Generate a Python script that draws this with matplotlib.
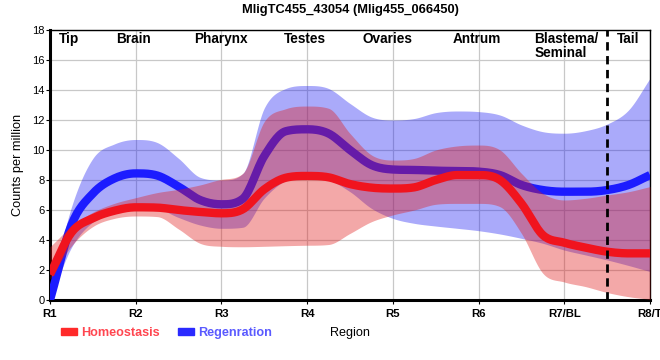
import numpy as np
import matplotlib
matplotlib.use('Agg')
import matplotlib.pyplot as plt
from matplotlib.patches import Patch

plt.rcParams['font.family'] = ['Liberation Sans', 'DejaVu Sans']

# sample positions along the body (1 = R1 ... 8 = R8), quarter steps
pos = np.arange(1, 8.01, 0.25)

hom_mean = [1.7, 4.5, 5.45, 5.95, 6.18, 6.16, 6.0, 5.87, 5.78, 6.05, 7.38, 8.15, 8.27, 8.18, 7.73,
            7.49, 7.43, 7.51, 8.0, 8.33, 8.33, 8.0, 6.44, 4.33, 3.82, 3.49, 3.22, 3.11, 3.11]
hom_low = [1.4, 3.6, 4.9, 5.44, 5.6, 5.56, 4.73, 3.78, 3.58, 3.55, 3.58, 3.62, 3.65, 3.7, 4.44,
           5.22, 5.67, 6.0, 6.38, 6.44, 6.44, 6.22, 4.44, 1.78, 1.2, 0.89, 0.5, 0.22, 0.05]
hom_high = [3.55, 4.9, 5.85, 6.44, 6.82, 7.16, 7.38, 7.67, 8.04, 8.45, 11.9, 12.75, 12.93, 12.78, 11.1,
            9.67, 9.33, 9.44, 10.0, 10.27, 10.33, 10.0, 8.44, 7.11, 6.67, 6.78, 7.0, 7.22, 7.56]

reg_mean = [0.0, 5.0, 7.1, 8.1, 8.44, 8.3, 7.56, 6.67, 6.38, 6.75, 9.6, 11.25, 11.38, 11.1, 10.0,
            9.0, 8.7, 8.67, 8.62, 8.6, 8.56, 8.33, 7.67, 7.33, 7.22, 7.22, 7.33, 7.67, 8.33]
reg_low = [0.0, 3.5, 5.2, 5.8, 6.2, 6.1, 5.5, 5.0, 4.78, 4.85, 6.8, 7.95, 8.15, 8.0, 7.22,
           6.11, 5.44, 5.11, 4.93, 4.78, 4.62, 4.4, 4.11, 3.78, 3.33, 3.0, 2.67, 2.3, 1.9]
reg_high = [0.5, 6.2, 9.44, 10.4, 10.7, 10.5, 9.44, 8.18, 8.0, 8.44, 12.8, 14.1, 14.3, 14.1, 13.1,
            12.2, 12.0, 12.1, 12.49, 12.6, 12.56, 12.33, 11.67, 11.22, 11.12, 11.29, 11.73, 12.67, 14.78]

region_ticks = ['R1', 'R2', 'R3', 'R4', 'R5', 'R6', 'R7/BL', 'R8/T']
tissues = ['Tip', 'Brain', 'Pharynx', 'Testes', 'Ovaries', 'Antrum', 'Blastema/\nSeminal', 'Tail']
tissue_x = [1.22, 1.97, 2.99, 3.97, 4.94, 5.98, 6.65, 7.75]


def smooth(x, y, n=16):
    # cubic hermite through the read points (centred tangents, overshoot limited), only for drawing
    x = np.asarray(x, float)
    y = np.asarray(y, float)
    h = np.diff(x)
    d = np.diff(y) / h
    m = np.empty_like(y)
    m[0], m[-1] = d[0], d[-1]
    m[1:-1] = (d[:-1] + d[1:]) / 2
    for k in range(len(d)):
        if d[k] == 0:
            m[k] = m[k+1] = 0
            continue
        a, b = m[k]/d[k], m[k+1]/d[k]
        if a < 0:
            m[k] = 0
            a = 0
        if b < 0:
            m[k+1] = 0
            b = 0
        s = a*a + b*b
        if s > 9:
            tau = 3/np.sqrt(s)
            m[k], m[k+1] = tau*a*d[k], tau*b*d[k]
    xs, ys = [], []
    t = np.linspace(0, 1, n, endpoint=False)
    h00 = 2*t**3 - 3*t**2 + 1
    h10 = t**3 - 2*t**2 + t
    h01 = -2*t**3 + 3*t**2
    h11 = t**3 - t**2
    for i in range(len(y)-1):
        ys.append(h00*y[i] + h10*h[i]*m[i] + h01*y[i+1] + h11*h[i]*m[i+1])
        xs.append(x[i] + h[i]*t)
    xs.append([x[-1]])
    ys.append([y[-1]])
    return np.concatenate(xs), np.concatenate(ys)


fig = plt.figure(figsize=(6.6, 3.6), dpi=100)
ax = fig.add_axes([50/660, 60/360, 600/660, 270/360])

red = '#f0141e'
blue = '#1c1cff'

xs, lo = smooth(pos, reg_low)
_, hi = smooth(pos, reg_high)
_, mn = smooth(pos, reg_mean)
ax.fill_between(xs, lo, hi, color=(0.1, 0.1, 0.95), alpha=0.37, lw=0, zorder=2)
ax.plot(xs, mn, color=blue, lw=6, solid_capstyle='butt', zorder=3)

xs, lo = smooth(pos, hom_low)
_, hi = smooth(pos, hom_high)
_, mn = smooth(pos, hom_mean)
ax.fill_between(xs, lo, hi, color=(0.88, 0.1, 0.1), alpha=0.38, lw=0, zorder=4)
ax.plot(xs, mn, color=red, lw=6, solid_capstyle='butt', zorder=5)

ax.axvline(7.5, color='black', lw=2, ls=(0, (3, 2)), zorder=6)

for x, lab in zip(tissue_x, tissues):
    ha = 'left' if '\n' in lab else 'center'
    ax.text(x, 17.85, lab, ha=ha, va='top', fontsize=9.8, fontweight='bold', linespacing=1.0, zorder=7)

ax.set_xlim(1, 8)
ax.set_ylim(0, 18)
ax.set_xticks(range(1, 9))
ax.set_xticklabels(region_ticks, fontsize=8.2, fontweight='bold')
ax.set_yticks(range(0, 19, 2))
ax.tick_params(axis='y', labelsize=8, length=3, pad=1)
ax.tick_params(axis='x', length=3, pad=3.5)
ax.grid(True, color='#c8c8c8', lw=0.9)
ax.set_axisbelow(True)
for s in ['left', 'bottom']:
    ax.spines[s].set_linewidth(2.2)
for s in ['top', 'right']:
    ax.spines[s].set_linewidth(1.0)

ax.set_ylabel('Counts per million', fontsize=9.2, labelpad=6)
ax.set_xlabel('Region', fontsize=9.1, labelpad=6)
ax.set_title('MligTC455_43054 (Mlig455_066450)', fontsize=9.3, fontweight='bold', pad=12)

handles = [Patch(color='#ff2a2a'), Patch(color='#2a2aff')]
fig.legend(handles, ['Homeostasis', 'Regenration'], loc='center left',
           bbox_to_anchor=(50/660, 1-333/360), ncol=2, frameon=False,
           handlelength=1.25, handleheight=0.55, handletextpad=0.35, columnspacing=1.4,
           labelcolor=['#ff4650', '#5a5aff'], prop={'size': 9.1, 'weight': 'bold'})

fig.savefig('out.png', dpi=100)
